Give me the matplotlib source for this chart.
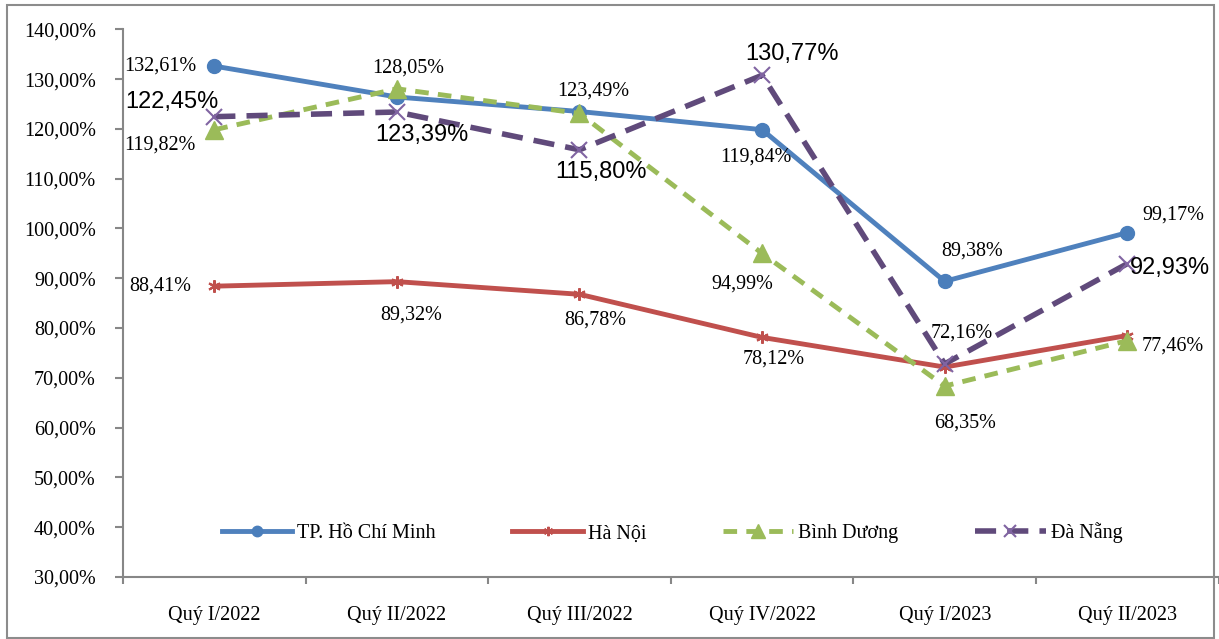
import matplotlib.pyplot as plt
from matplotlib.patches import Rectangle
from matplotlib.ticker import FuncFormatter, FixedLocator

quarters = ["Quý I/2022", "Quý II/2022", "Quý III/2022", "Quý IV/2022", "Quý I/2023", "Quý II/2023"]
hcm = [132.61, 126.4, 123.49, 119.84, 89.38, 99.17]
hanoi = [88.41, 89.32, 86.78, 78.12, 72.16, 78.5]
binhduong = [119.82, 128.05, 123.1, 94.99, 68.35, 77.46]
danang = [122.45, 123.39, 115.80, 130.77, 72.8, 92.93]

# which points carry a label, and where (pixel offset from marker)
hcm_lab = {0: (-54, 0), 2: (14, 20), 3: (-6, -27), 4: (27, 30), 5: (46, 18)}
hanoi_lab = {0: (-54, 0), 1: (14, -33), 2: (16, -26), 3: (12, -22), 4: (17, 34)}
bd_lab = {0: (-54, -15), 1: (11, 21), 3: (-20, -31), 4: (20, -37), 5: (45, -5)}
dn_lab = {0: (-42, 15), 1: (25, -23), 2: (22, -22), 3: (30, 21), 5: (43, -4)}

serif = "Liberation Serif"
sans = "Liberation Sans"
fs = 14.5

fig = plt.figure(figsize=(12.19, 6.39), dpi=100)
ax = fig.add_axes([123 / 1219, 1 - 577 / 639, 1095.6 / 1219, (577 - 29.3) / 639])
x = list(range(len(quarters)))

ax.plot(x, hcm, color="#4F81BD", lw=3.5, marker="o", ms=10, mfc="#4A7EBB", mec="#4A7EBB",
        label="TP. Hồ Chí Minh", zorder=3)
ax.plot(x, hanoi, color="#C0504D", lw=3.5, marker=(6, 2, 0), ms=9, mec="#C0504D", mew=1.5,
        label="Hà Nội", zorder=3)
ax.plot(x, binhduong, color="#9BBB59", lw=3.5, ls=(0, (2.8, 1.9)), marker="^", ms=13,
        mfc="#9BBB59", mec="#9BBB59", label="Bình Dương", zorder=4)
ax.plot(x, danang, color="#604A7B", lw=4, ls=(0, (3.8, 2.0)), marker="x", ms=12, mec="#8064A2",
        mew=1.5, label="Đà Nẵng", zorder=5)


def fmt(v):
    return ("%.2f%%" % v).replace(".", ",")


for vals, labs, fam, size in [(hcm, hcm_lab, serif, fs), (hanoi, hanoi_lab, serif, fs),
                              (binhduong, bd_lab, serif, fs), (danang, dn_lab, sans, 17)]:
    for i, (dx, dy) in labs.items():
        ax.annotate(fmt(vals[i]), (i, vals[i]), xytext=(dx, dy), textcoords="offset pixels",
                    ha="center", va="center", fontsize=size, family=fam, color="black", zorder=6)

ax.set_xlim(-0.5, 5.5)
ax.set_ylim(30, 140)
ax.set_yticks(range(30, 141, 10))
ax.yaxis.set_major_formatter(FuncFormatter(lambda v, p: ("%.2f%%" % v).replace(".", ",")))
ax.set_xticks(x)
ax.set_xticklabels(quarters)
ax.xaxis.set_minor_locator(FixedLocator([i - 0.5 for i in range(7)]))
ax.tick_params(axis="x", which="major", length=0, pad=21)
ax.tick_params(axis="x", which="minor", length=5, width=1.5, color="#878787", direction="out")
ax.tick_params(axis="y", length=6, width=1.5, color="#878787", direction="out", pad=13.5)
for lab in ax.get_xticklabels() + ax.get_yticklabels():
    lab.set_family(serif)
    lab.set_fontsize(fs)
for s in ["top", "right"]:
    ax.spines[s].set_visible(False)
for s in ["left", "bottom"]:
    ax.spines[s].set_color("#878787")
    ax.spines[s].set_linewidth(1.5)

leg = fig.legend(loc="center", bbox_to_anchor=(672 / 1219, 1 - 533 / 639), ncol=4,
                 frameon=False, handlelength=3.5, handletextpad=0.25, columnspacing=3.8,
                 markerscale=0.75, prop={"family": serif, "size": fs})

fig.patches.append(Rectangle((7 / 1219, 1 / 639), 1207 / 1219, 633 / 639, transform=fig.transFigure,
                             fill=False, edgecolor="#8C8C8C", lw=1.5))

fig.savefig("out.png", dpi=100)
